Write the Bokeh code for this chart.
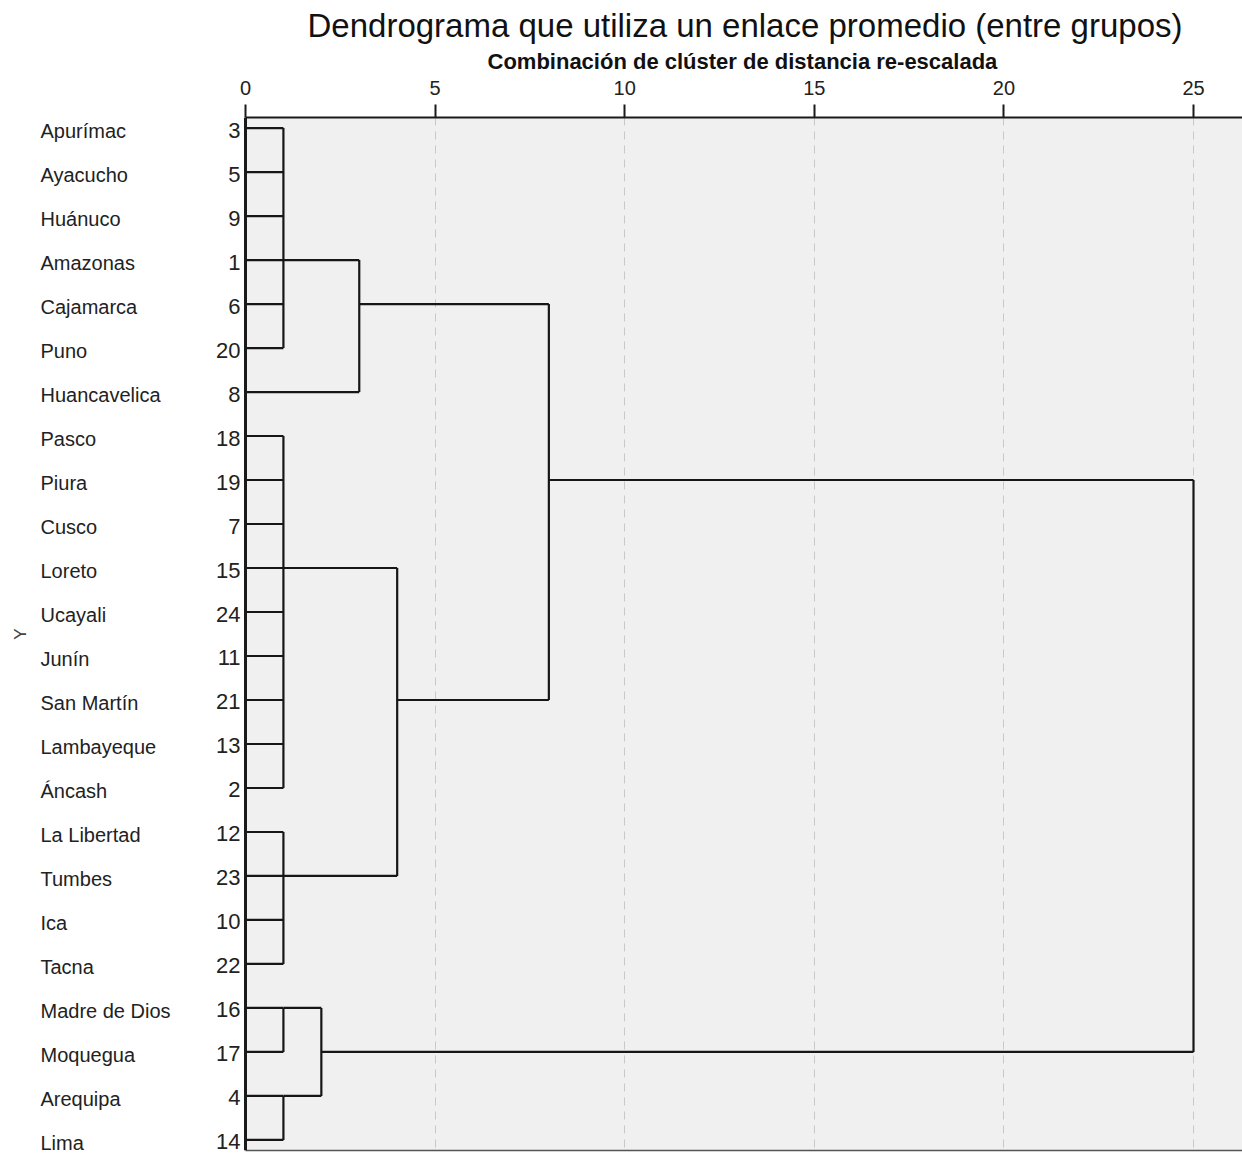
import math
from bokeh.plotting import figure
from bokeh.models import Range1d, FixedTicker, ColumnDataSource, LinearAxis, Span, BoxAnnotation, Title
from bokeh.core.properties import value
from bokeh.embed import file_html
from bokeh.resources import INLINE

# ---- data ----
leaf_names = ["Apurímac", "Ayacucho", "Huánuco", "Amazonas", "Cajamarca", "Puno",
              "Huancavelica", "Pasco", "Piura", "Cusco", "Loreto", "Ucayali", "Junín",
              "San Martín", "Lambayeque", "Áncash", "La Libertad", "Tumbes", "Ica",
              "Tacna", "Madre de Dios", "Moquegua", "Arequipa", "Lima"]
leaf_ids = [3, 5, 9, 1, 6, 20, 8, 18, 19, 7, 15, 24, 11, 21, 13, 2, 12, 23, 10, 22,
            16, 17, 4, 14]

# internal nodes of the dendrogram (children: leaf row index or node name)
node_names = ["A", "B", "C", "D1", "D2", "AH", "BC", "AHBC", "D", "ALL"]
node_children = [[0, 1, 2, 3, 4, 5],
                 [7, 8, 9, 10, 11, 12, 13, 14, 15],
                 [16, 17, 18, 19],
                 [20, 21],
                 [22, 23],
                 ["A", 6],
                 ["B", "C"],
                 ["AH", "BC"],
                 ["D1", "D2"],
                 ["AHBC", "D"]]
node_heights = [1, 1, 1, 1, 1, 3, 4, 8, 2, 25]
node_rows = [3, 10, 17, 20, 22, 4, 13, 8, 21, 14]

x_ticks = [0, 5, 10, 15, 20, 25]
grid_ticks = [5, 10, 15, 20, 25]

title_text = "Dendrograma que utiliza un enlace promedio (entre grupos)"
x_label = "Combinación de clúster de distancia re-escalada"
y_label = "Y"

# ---- build segments ----
h_of = {n: h for n, h in zip(node_names, node_heights)}
r_of = {n: r for n, r in zip(node_names, node_rows)}

def child_pos(c):
    if isinstance(c, int):
        return 0.0, float(c)
    return float(h_of[c]), float(r_of[c])

x0, y0, x1, y1 = [], [], [], []
for name, kids, h in zip(node_names, node_children, node_heights):
    rows = []
    for c in kids:
        ch, cr = child_pos(c)
        rows.append(cr)
        x0.append(ch); y0.append(cr); x1.append(h); y1.append(cr)
    x0.append(h); y0.append(min(rows)); x1.append(h); y1.append(max(rows))

FONT = "Liberation Sans"
W, H = 1242, 1153
PX_PER_UNIT = 37.92          # screen pixels per distance unit
LEFT_PX = 245                # screen position of distance 0
X_MIN = -LEFT_PX / PX_PER_UNIT
X_MAX = (W - LEFT_PX) / PX_PER_UNIT
NAME_X = (40 - LEFT_PX) / PX_PER_UNIT
NUM_X = (240 - LEFT_PX) / PX_PER_UNIT
YLAB_X = (20 - LEFT_PX) / PX_PER_UNIT

p = figure(width=W, height=H,
           x_range=Range1d(X_MIN, X_MAX), y_range=Range1d(23.24, -0.24),
           x_axis_location="above", output_backend="svg", toolbar_location=None,
           min_border_left=0, min_border_right=0, min_border_bottom=3,
           min_border_top=117)

p.background_fill_color = "white"
p.border_fill_color = "white"
p.outline_line_color = None
p.yaxis.visible = False

# grey plotting area starting at distance 0
p.add_layout(BoxAnnotation(left=0, fill_color="#f0f0f0", fill_alpha=1.0,
                           line_color=None, level="image"))

xa = p.xaxis[0]
xa.bounds = (0, X_MAX)
xa.ticker = FixedTicker(ticks=x_ticks)
xa.major_label_text_font = FONT
xa.major_label_text_font_size = "20px"
xa.major_label_text_color = "#222222"
xa.major_label_standoff = 10
xa.major_tick_out = 13
xa.major_tick_in = 0
xa.minor_tick_out = 0
xa.minor_tick_in = 0
xa.major_tick_line_width = 2
xa.major_tick_line_color = "#1a1a1a"
xa.axis_line_width = 2
xa.axis_line_color = "#1a1a1a"

# axis title (centred over the plotting area)
p.add_layout(Title(text=x_label, align="left", offset=487,
                   text_font=FONT, text_font_size="22px", text_font_style="bold",
                   text_color="#111111", standoff=7), "above")

p.title.text = title_text
p.title.align = "left"
p.title.offset = 307
p.title.text_font = FONT
p.title.text_font_size = "33px"
p.title.text_font_style = "normal"
p.title.text_color = "#111111"
p.title.standoff = 0

# bottom border line of the plotting area
xb = LinearAxis(bounds=(0, X_MAX), ticker=FixedTicker(ticks=[]),
                major_tick_out=0, major_tick_in=0, minor_tick_out=0, minor_tick_in=0,
                major_label_standoff=0, major_label_text_font_size="0px",
                axis_line_color="#555555", axis_line_width=1.5)
p.add_layout(xb, "below")

p.xgrid.ticker = FixedTicker(ticks=grid_ticks)
p.xgrid.grid_line_color = "#c8c8c8"
p.xgrid.grid_line_dash = "8 6"
p.xgrid.grid_line_width = 1
p.ygrid.visible = False

# left border
p.add_layout(Span(location=0, dimension="height", line_color="#1a1a1a", line_width=3))

p.segment(x0=x0, y0=y0, x1=x1, y1=y1, line_color="#161616", line_width=2.2)

rows = list(range(len(leaf_names)))
names_src = ColumnDataSource(dict(x=[NAME_X] * len(rows), y=rows, name=leaf_names))
p.text(x="x", y="y", text="name", source=names_src,
       text_align="left", text_baseline="middle",
       text_font=value(FONT), text_font_size=value("20px"),
       text_color="#222222", y_offset=3)

nums_src = ColumnDataSource(dict(x=[NUM_X] * len(rows), y=rows,
                                 num=[str(v) for v in leaf_ids]))
p.text(x="x", y="y", text="num", source=nums_src,
       text_align="right", text_baseline="middle",
       text_font=value(FONT), text_font_size=value("22px"),
       text_color="#222222", y_offset=2)

p.text(x=[YLAB_X], y=[11.5], text=[y_label], angle=math.pi / 2,
       text_align="center", text_baseline="middle",
       text_font=value(FONT), text_font_size=value("17px"), text_color="#444444")

open("out.html", "w").write(file_html(p, INLINE))
